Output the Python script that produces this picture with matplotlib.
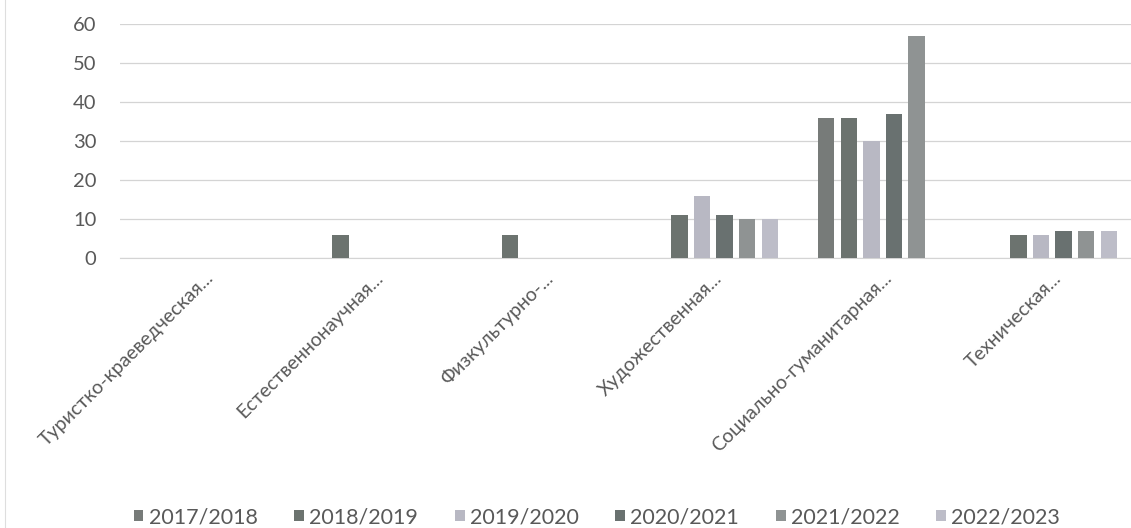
import numpy as np
import matplotlib
matplotlib.use("Agg")
import matplotlib.pyplot as plt

plt.rcParams['font.family'] = ['Lato', 'DejaVu Sans']

categories = ["Туристко-краеведческая...", "Естественнонаучная...", "Физкультурно-...",
              "Художественная...", "Социально-гуманитарная...", "Техническая..."]
years = ["2017/2018", "2018/2019", "2019/2020", "2020/2021", "2021/2022", "2022/2023"]

v2017 = [0, 0, 0, 0, 36, 0]
v2018 = [0, 6, 6, 11, 36, 6]
v2019 = [0, 0, 0, 16, 30, 6]
v2020 = [0, 0, 0, 11, 37, 7]
v2021 = [0, 0, 0, 10, 57, 7]
v2022 = [0, 0, 0, 10, 0, 7]
series = [v2017, v2018, v2019, v2020, v2021, v2022]

colors = ["#777b79", "#6c736f", "#b8b8c3", "#697170", "#8f9393", "#bdbdc8"]

fig = plt.figure(figsize=(11.31, 5.28), dpi=100)
ax = fig.add_axes([120 / 1131, (528 - 258) / 528, 1017 / 1131, 234 / 528])

x = np.arange(len(categories))
slot = 1 / 7.5
for i, (vals, c) in enumerate(zip(series, colors)):
    ax.bar(x + (i - 2.5) * slot, vals, width=slot * 0.73, color=c, label=years[i], zorder=3)

ax.set_xlim(-0.5, len(categories) - 0.5)
ax.set_ylim(0, 60)
ax.set_yticks(range(0, 61, 10))
ax.yaxis.grid(True, color="#d4d4d4", linewidth=0.9)
ax.set_axisbelow(True)
for s in ["top", "right", "left"]:
    ax.spines[s].set_visible(False)
ax.spines["bottom"].set_color("#d4d4d4")
ax.tick_params(axis="y", length=0, pad=17, labelsize=14.5, labelcolor="#595959")
ax.tick_params(axis="x", length=0, pad=8)

ax.set_xticks(x)
ax.set_xticklabels(categories, rotation=45, ha="right", va="top",
                   rotation_mode="anchor", fontsize=14, color="#595959")

fig.legend(loc="center", bbox_to_anchor=(597 / 1131, 1 - 517 / 528), ncol=6,
           frameon=False, fontsize=15.5, labelcolor="#595959",
           handlelength=0.45, handleheight=0.45, handletextpad=0.25, columnspacing=1.7)

# faint border line at the left of the scan
fig.add_artist(plt.Line2D([5 / 1131, 5 / 1131], [0, 1], color="#dedede", linewidth=0.8))

fig.savefig("out.png", dpi=100)
